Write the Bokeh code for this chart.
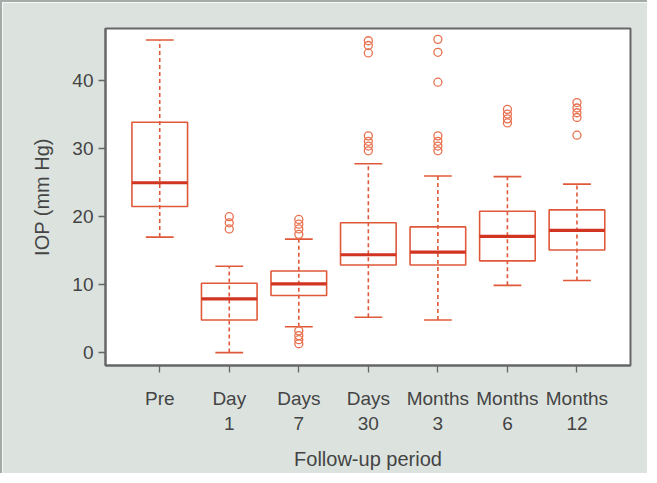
import math
from bokeh.plotting import figure
from bokeh.models import ColumnDataSource, FixedTicker, Range1d
from bokeh.transform import dodge
from bokeh.embed import file_html
from bokeh.resources import INLINE

categories = ["Pre", "Day\n1", "Days\n7", "Days\n30", "Months\n3", "Months\n6", "Months\n12"]
positions = [1, 2, 3, 4, 5, 6, 7]
whisker_low = [17.0, 0.0, 3.8, 5.2, 4.8, 9.9, 10.6]
q1 = [21.5, 4.8, 8.4, 12.9, 12.9, 13.5, 15.1]
median = [25.0, 7.9, 10.1, 14.4, 14.8, 17.1, 18.0]
q3 = [33.9, 10.2, 12.0, 19.1, 18.5, 20.8, 21.0]
whisker_high = [46.0, 12.7, 16.7, 27.8, 26.0, 25.9, 24.8]

outliers = [
    [],
    [20.0, 19.1, 18.2],
    [19.6, 18.9, 18.2, 17.4, 3.2, 2.5, 1.9, 1.3],
    [45.9, 45.2, 44.1, 31.9, 31.1, 30.4, 29.7],
    [46.1, 44.2, 39.8, 31.9, 31.1, 30.4, 29.7],
    [35.8, 35.1, 34.4, 33.8],
    [36.8, 36.0, 35.3, 34.6, 32.0],
]

y_ticks = [0, 10, 20, 30, 40]
x_title = "Follow-up period"
y_title = "IOP (mm Hg)"

BOX = "#e0583a"
MED = "#d13522"
OUT = "#e8704e"
BG = "#dce3df"
TXT = "#444444"
FONT = "Liberation Sans"

src = ColumnDataSource(dict(x=positions, lo=whisker_low, q1=q1, med=median, q3=q3, hi=whisker_high))
ox, oy = [], []
for pos, vals in zip(positions, outliers):
    for v in vals:
        ox.append(pos)
        oy.append(v)
out_src = ColumnDataSource(dict(x=ox, y=oy))

p = figure(width=647, height=473, output_backend="svg", toolbar_location=None,
           x_range=Range1d(0.22, 7.77), y_range=Range1d(-1.9, 47.7),
           min_border_left=103, min_border_right=19, min_border_top=26, min_border_bottom=110,
           background_fill_color="white", border_fill_color=BG)
p.styles = {"border-left": "2px solid #a3aca8", "border-top": "2px solid #a3aca8"}
p.xgrid.visible = False
p.ygrid.visible = False
p.outline_line_color = "#666666"
p.outline_line_width = 2

# whiskers (dashed, through the box)
p.segment(x0="x", y0="lo", x1="x", y1="hi", source=src, line_color=BOX, line_width=1.6, line_dash="4 3")
# caps
p.segment(x0=dodge("x", -0.2), y0="lo", x1=dodge("x", 0.2), y1="lo", source=src, line_color=BOX, line_width=1.6)
p.segment(x0=dodge("x", -0.2), y0="hi", x1=dodge("x", 0.2), y1="hi", source=src, line_color=BOX, line_width=1.6)
# boxes
p.vbar(x="x", width=0.8, top="q3", bottom="q1", source=src, fill_color=None, line_color=BOX, line_width=1.6)
# medians
p.segment(x0=dodge("x", -0.4), y0="med", x1=dodge("x", 0.4), y1="med", source=src, line_color=MED, line_width=3.2)
# outliers
p.scatter(x="x", y="y", source=out_src, size=8, marker="circle", fill_color=None, line_color=OUT, line_width=1.3)

for ax in (p.xaxis[0], p.yaxis[0]):
    ax.axis_line_color = "#666666"
    ax.axis_line_width = 2
    ax.major_tick_line_color = "#666666"
    ax.major_tick_line_width = 1.3
    ax.major_tick_in = 0
    ax.major_tick_out = 7
    ax.minor_tick_line_color = None
    ax.major_label_text_font = FONT
    ax.major_label_text_font_size = "19px"
    ax.major_label_text_color = TXT
    ax.axis_label_text_font = FONT
    ax.axis_label_text_font_size = "20px"
    ax.axis_label_text_font_style = "normal"
    ax.axis_label_text_color = TXT

p.xaxis.ticker = FixedTicker(ticks=positions)
p.xaxis.major_label_overrides = {pos: lab for pos, lab in zip(positions, categories)}
p.xaxis.major_label_standoff = 15
p.xaxis.axis_label = x_title
p.xaxis.axis_label_standoff = 11

p.yaxis.ticker = FixedTicker(ticks=y_ticks)
p.yaxis.major_label_standoff = 5
p.yaxis.axis_label = y_title
p.yaxis.axis_label_standoff = 16

open("out.html", "w").write(file_html(p, INLINE))
